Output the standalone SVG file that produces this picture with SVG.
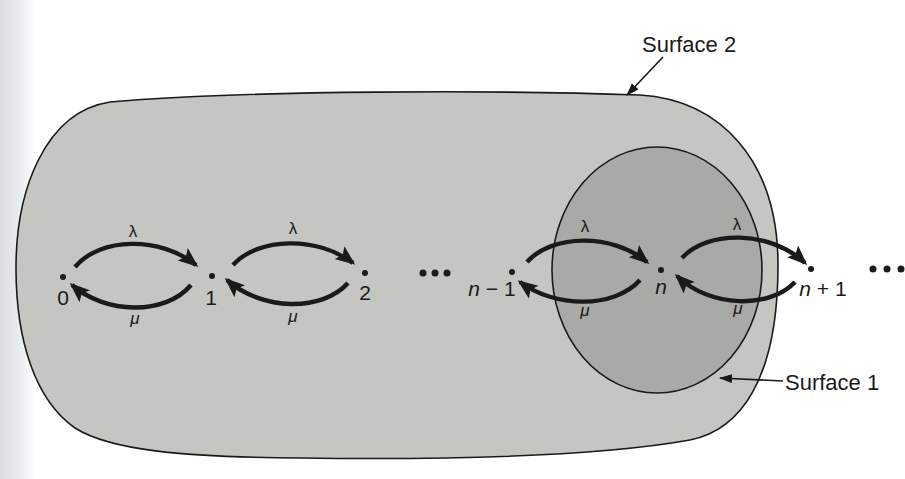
<svg xmlns="http://www.w3.org/2000/svg" width="905" height="479" viewBox="0 0 905 479">
<defs>
<linearGradient id="edge" x1="0" y1="0" x2="1" y2="0">
<stop offset="0" stop-color="#dadfe3"/>
<stop offset="0.5" stop-color="#e8ebed"/>
<stop offset="1" stop-color="#ffffff"/>
</linearGradient>
<marker id="big" markerUnits="userSpaceOnUse" markerWidth="22" markerHeight="18" refX="17" refY="8" orient="auto">
<path d="M0,0 L20,8 L0,16 L4,8 Z" fill="#1a1a1a"/>
</marker>
<marker id="thin" markerUnits="userSpaceOnUse" markerWidth="14" markerHeight="10" refX="12" refY="4.5" orient="auto">
<path d="M0,0 L13,4.5 L0,9 Z" fill="#1a1a1a"/>
</marker>
</defs>
<style>
.arc{fill:none;stroke:#1a1a1a;stroke-width:4.4;marker-end:url(#big)}
.lead{fill:none;stroke:#1a1a1a;stroke-width:1.6;marker-end:url(#thin)}
.lbl{font-family:"Liberation Sans",Arial,sans-serif;font-size:21px;fill:#1a1a1a;text-anchor:middle}
.it{font-style:italic}
.gr{font-family:"Liberation Sans",Arial,sans-serif;font-size:17px;fill:#1a1a1a;text-anchor:middle}
.big{font-family:"Liberation Sans",Arial,sans-serif;font-size:22px;fill:#1a1a1a}
.dot{fill:#1a1a1a}
</style>
<rect x="0" y="0" width="905" height="479" fill="#ffffff"/>
<rect x="0" y="0" width="36" height="479" fill="url(#edge)"/>

<g id="surface2">
<path d="M16,268 C16,190 45,112 110,102 C250,90 500,90 640,95 C720,100 778,160 778,265 C778,380 740,430 690,440 C600,456 450,460 300,458 C180,457 110,450 75,428 C35,400 16,340 16,268 Z" fill="#c5c5c2" stroke="#1a1a1a" stroke-width="1.6"/>
</g>
<g id="surface1">
<ellipse cx="657" cy="270" rx="105" ry="123" fill="#a9a9a6" stroke="#1a1a1a" stroke-width="1.6"/>
</g>

<g id="connectors">
<path class="arc" d="M75,267 C100,237 160,236 196,265"/>
<path class="arc" d="M191,285 C165,316 105,314 72,285"/>
<path class="arc" d="M233,265 C258,237 318,236 353,263"/>
<path class="arc" d="M348,283 C322,312 262,311 227,280"/>
<path class="arc" d="M527,262 C552,234 612,233 647,262"/>
<path class="arc" d="M640,280 C614,309 555,308 520,282"/>
<path class="arc" d="M682,258 C707,230 770,230 805,263"/>
<path class="arc" d="M795,282 C770,309 710,308 677,276"/>
<path class="lead" d="M663,57 L627,95"/>
<path class="lead" d="M783,381 L720,378"/>
</g>

<g id="rates">
<text class="gr" x="133" y="237">λ</text>
<text class="gr" x="293" y="234">λ</text>
<text class="gr" x="585" y="232">λ</text>
<text class="gr" x="737" y="230">λ</text>
<text class="gr it" x="135" y="324">μ</text>
<text class="gr it" x="293" y="322">μ</text>
<text class="gr it" x="585" y="316">μ</text>
<text class="gr it" x="738" y="314">μ</text>
</g>

<g id="node-0"><circle class="dot" cx="63" cy="277" r="3"/><text class="lbl" x="63" y="305">0</text></g>
<g id="node-1"><circle class="dot" cx="212" cy="276" r="3"/><text class="lbl" x="211" y="305">1</text></g>
<g id="node-2"><circle class="dot" cx="365" cy="273" r="3"/><text class="lbl" x="365" y="300">2</text></g>
<g id="ellipsis-1"><circle class="dot" cx="423" cy="273" r="3.5"/><circle class="dot" cx="435" cy="273" r="3.5"/><circle class="dot" cx="447" cy="273" r="3.5"/></g>
<g id="node-n-1"><circle class="dot" cx="512" cy="272" r="3"/><text class="lbl" x="492" y="296"><tspan class="it">n</tspan> − 1</text></g>
<g id="node-n"><circle class="dot" cx="661" cy="270" r="3"/><text class="lbl it" x="661" y="294">n</text></g>
<g id="node-n1"><circle class="dot" cx="811" cy="269" r="3"/><text class="lbl" x="823" y="296"><tspan class="it">n</tspan> + 1</text></g>
<g id="ellipsis-2"><circle class="dot" cx="873" cy="269" r="3.5"/><circle class="dot" cx="887" cy="269" r="3.5"/><circle class="dot" cx="901" cy="269" r="3.5"/></g>

<g id="label-surface2"><text class="big" x="642" y="52">Surface 2</text></g>
<g id="label-surface1"><text class="big" x="785" y="390">Surface 1</text></g>
</svg>
